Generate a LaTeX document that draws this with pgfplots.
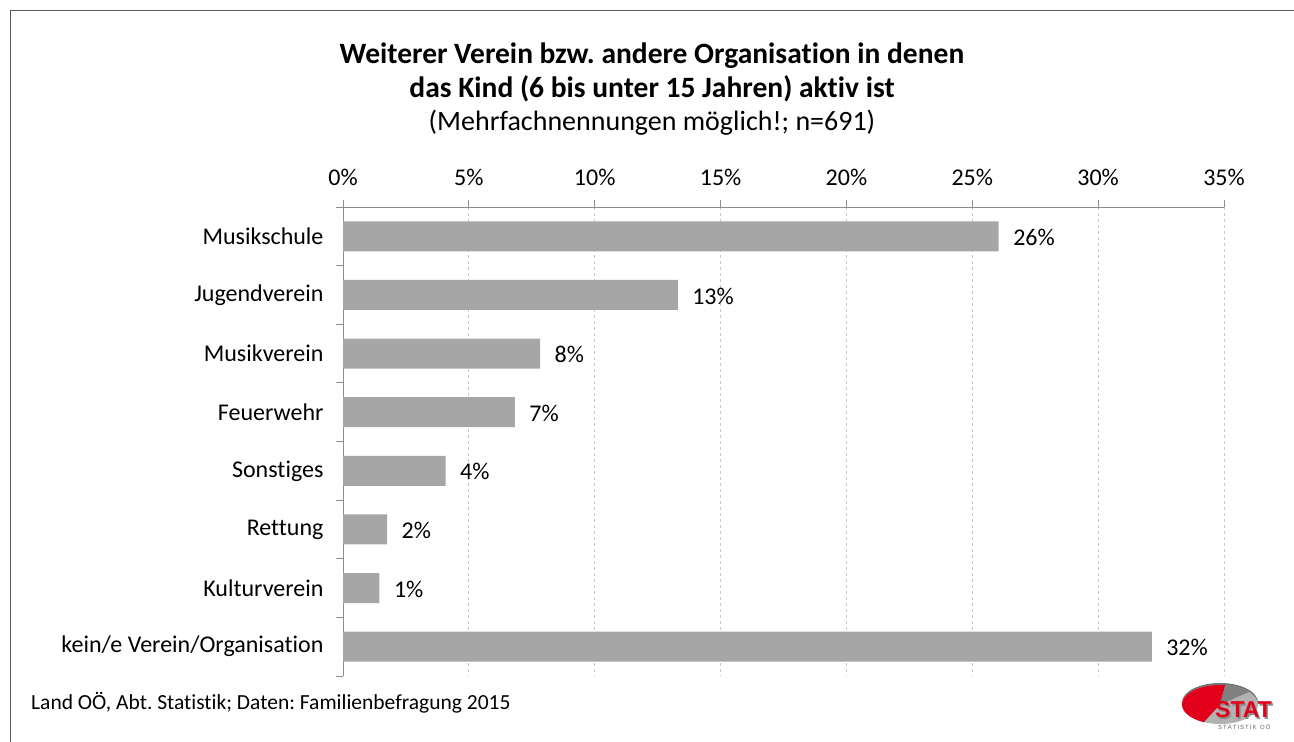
\documentclass[border=0pt]{standalone}
\usepackage{fontspec}
\setmainfont{Carlito}[RawFeature={-liga}]
\newfontfamily\logofont{Liberation Sans}
\usepackage{pgfplots}
\pgfplotsset{compat=1.18}
\definecolor{barc}{HTML}{A6A6A6}
\definecolor{framec}{HTML}{595959}
\definecolor{axisc}{HTML}{8C8C8C}
\definecolor{gridc}{HTML}{C8C8C8}
\definecolor{logored}{HTML}{E3001B}
\frenchspacing
\begin{document}
\begin{tikzpicture}[x=1pt,y=1pt]
\path[use as bounding box] (0pt,0pt) rectangle (1294pt,742pt);
\draw[color=framec, line width=1.5pt] (10.5pt,-2pt) -- (10.5pt,731.5pt) -- (1296pt,731.5pt);
% titles
\node[anchor=base, font=\fontsize{29.5}{33}\selectfont\bfseries] at (652pt,678pt) {Weiterer Verein bzw. andere Organisation in denen};
\node[anchor=base, font=\fontsize{29.5}{33}\selectfont\bfseries] at (652pt,644pt) {das Kind (6 bis unter 15 Jahren) aktiv ist};
\node[anchor=base, font=\fontsize{28}{32}\selectfont] at (652pt,611pt) {(Mehrfachnennungen möglich!; n=691)};
\node[anchor=base west, inner sep=0pt, font=\fontsize{21.5}{25}\selectfont] at (31pt,32pt) {Land OÖ, Abt. Statistik; Daten: Familienbefragung 2015};
\begin{axis}[
  at={(343pt,66pt)}, anchor=south west, scale only axis,
  width=881pt, height=469pt,
  xmin=0, xmax=35, ymin=-0.5, ymax=7.5, y dir=reverse,
  axis x line*=top, axis y line*=left,
  axis line style={-, draw=axisc, line width=1pt},
  xtick={0,5,...,35},
  xticklabels={0\%,5\%,10\%,15\%,20\%,25\%,30\%,35\%},
  xmajorgrids, grid style={dash pattern=on 3pt off 3pt, draw=gridc, line width=1pt},
  ytick={-0.5,0.5,...,7.5},
  y tick label as interval,
  yticklabels={Musikschule,Jugendverein,Musikverein,Feuerwehr,Sonstiges,Rettung,Kulturverein,kein/e Verein/Organisation},
  tick align=outside, major tick length=7pt,
  tick style={draw=axisc, line width=1pt},
  ticklabel style={font=\fontsize{24}{28}\selectfont},
  xticklabel style={yshift=11pt},
  yticklabel style={xshift=-9pt},
  xbar, bar width=30pt, bar shift=0pt,
  nodes near coords, point meta=explicit symbolic,
  nodes near coords style={anchor=west, xshift=11pt, yshift=-1pt, font=\fontsize{24}{28}\selectfont, text=black},
  clip=false,
]
\addplot[fill=barc, draw=none] coordinates {
 (26.05,0) [26\%]
 (13.3,1) [13\%]
 (7.83,2) [8\%]
 (6.83,3) [7\%]
 (4.08,4) [4\%]
 (1.75,5) [2\%]
 (1.45,6) [1\%]
 (32.13,7) [32\%]
};
\end{axis}
% logo
\fill[black!55] (1220pt,39.5pt) ellipse[x radius=38pt, y radius=19.5pt];
\fill[black!30] (1220pt,37.5pt) ellipse[x radius=38pt, y radius=19.5pt];
\fill[logored] (1220pt,37.5pt) -- ++(82:38pt and 19.5pt) arc[start angle=82, end angle=245, x radius=38pt, y radius=19.5pt] -- cycle;
\fill[black!50] (1220pt,37.5pt) -- ++(82:38pt and 19.5pt) arc[start angle=82, end angle=40, x radius=38pt, y radius=19.5pt] -- cycle;
\node[anchor=base west, inner sep=0pt, font=\logofont\fontsize{23}{25}\selectfont\bfseries, text=black!45] at (1216.5pt,22pt) {STAT};
\node[anchor=base west, inner sep=0pt, font=\logofont\fontsize{23}{25}\selectfont\bfseries, text=logored] at (1215pt,24pt) {STAT};
\node[anchor=base west, inner sep=0pt, font=\logofont\fontsize{6}{7}\selectfont, text=black!60] at (1218pt,12pt) {S\,T\,A\,T\,I\,S\,T\,I\,K\, \,O\,Ö};
\end{tikzpicture}
\end{document}
